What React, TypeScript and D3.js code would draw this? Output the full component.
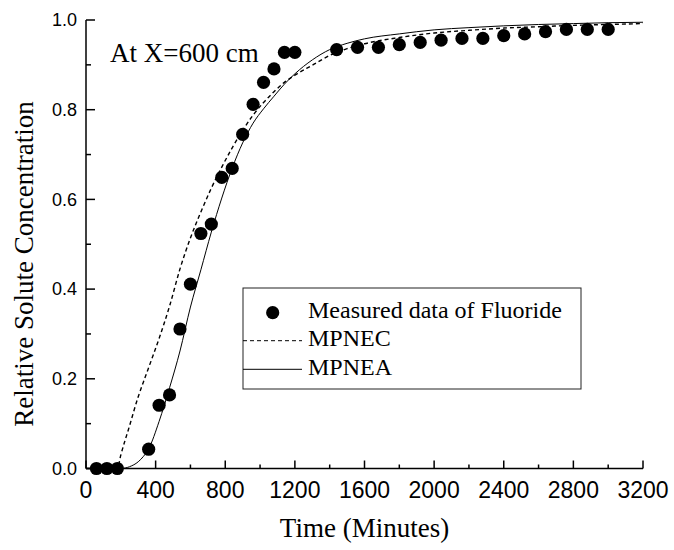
import React from "react";
import * as d3 from "d3";

// Measured data of Fluoride
const measuredTime = [60, 120, 180, 360, 420, 480, 540, 600, 660, 720, 780, 840, 900, 960, 1020, 1080, 1140, 1200, 1440, 1560, 1680, 1800, 1920, 2040, 2160, 2280, 2400, 2520, 2640, 2760, 2880, 3000];
const measuredConc = [0, 0, 0, 0.043, 0.141, 0.164, 0.311, 0.411, 0.524, 0.545, 0.649, 0.669, 0.745, 0.812, 0.861, 0.891, 0.928, 0.928, 0.934, 0.939, 0.939, 0.945, 0.95, 0.955, 0.959, 0.959, 0.965, 0.969, 0.974, 0.979, 0.979, 0.979];

// Model curves
const modelTime = [0, 180, 200, 250, 300, 330, 360, 420, 480, 540, 600, 660, 720, 780, 840, 900, 960, 1020, 1080, 1140, 1200, 1300, 1400, 1500, 1600, 1800, 2000, 2200, 2400, 2600, 2800, 3000, 3200];
const mpnec = [0, 0, 0.03, 0.095, 0.16, 0.193, 0.225, 0.29, 0.362, 0.445, 0.514, 0.572, 0.625, 0.672, 0.715, 0.754, 0.788, 0.816, 0.84, 0.861, 0.877, 0.899, 0.921, 0.936, 0.947, 0.961, 0.971, 0.977, 0.982, 0.985, 0.988, 0.99, 0.992];
const mpnea = [0, 0, 0, 0.004, 0.015, 0.027, 0.044, 0.105, 0.18, 0.262, 0.36, 0.443, 0.527, 0.603, 0.67, 0.726, 0.77, 0.802, 0.83, 0.857, 0.88, 0.911, 0.934, 0.948, 0.958, 0.969, 0.978, 0.983, 0.987, 0.99, 0.992, 0.994, 0.995];

const xMajorTicks = [0, 400, 800, 1200, 1600, 2000, 2400, 2800, 3200];
const xMinorTicks = [200, 600, 1000, 1400, 1800, 2200, 2600, 3000];
const yMajorTicks = [0, 0.2, 0.4, 0.6, 0.8, 1.0];
const yMinorTicks = [0.1, 0.3, 0.5, 0.7, 0.9];

const legendLabels = ["Measured data of Fluoride", "MPNEC", "MPNEA"];
const annotation = "At X=600 cm";
const xTitle = "Time (Minutes)";
const yTitle = "Relative Solute Concentration";

const W = 674;
const H = 550;
const serif = "'Liberation Serif', 'Times New Roman', serif";
const sans = "'Liberation Sans', Arial, sans-serif";

export default function App() {
  const x = d3.scaleLinear().domain([0, 3200]).range([86, 643]);
  const y = d3.scaleLinear().domain([0, 1]).range([468.5, 20]);

  const lineGen = (vals: number[]) =>
    d3
      .line<number>()
      .x((_, i) => x(modelTime[i]))
      .y((d) => y(d))
      .curve(d3.curveMonotoneX)(vals) as string;

  const x0 = x(0);
  const y0 = y(0);

  const lx0 = 243;
  const ly0 = 288;
  const lx1 = 581;
  const ly1 = 389;

  return (
    <svg
      width={W}
      height={H}
      style={{ position: "absolute", left: 0, top: 0, background: "#fff" }}
    >
      <rect x={0} y={0} width={W} height={H} fill="#fff" />

      {/* curves */}
      <path d={lineGen(mpnec)} fill="none" stroke="#000" strokeWidth={1.4} strokeDasharray="4,3" />
      <path d={lineGen(mpnea)} fill="none" stroke="#000" strokeWidth={1} />

      {/* measured points */}
      {measuredTime.map((t, i) => (
        <circle key={i} cx={x(t)} cy={y(measuredConc[i])} r={6.6} fill="#000" />
      ))}

      {/* axes */}
      <line x1={x0} y1={y0} x2={x(3200)} y2={y0} stroke="#000" strokeWidth={1.5} />
      <line x1={x0} y1={y0} x2={x0} y2={y(1)} stroke="#000" strokeWidth={1.5} />
      {xMajorTicks.map((t) => (
        <g key={"xm" + t}>
          <line x1={x(t)} x2={x(t)} y1={y0} y2={y0 - 8} stroke="#000" strokeWidth={1.5} />
          <text x={x(t)} y={498} textAnchor="middle" fontFamily={sans} fontSize={23}>
            {t}
          </text>
        </g>
      ))}
      {xMinorTicks.map((t) => (
        <line key={"xn" + t} x1={x(t)} x2={x(t)} y1={y0} y2={y0 - 4} stroke="#000" strokeWidth={1.5} />
      ))}
      {yMajorTicks.map((v) => (
        <g key={"ym" + v}>
          <line x1={x0} x2={x0 + 9} y1={y(v)} y2={y(v)} stroke="#000" strokeWidth={1.5} />
          <text x={77} y={y(v)} dy="0.35em" textAnchor="end" fontFamily={sans} fontSize={18}>
            {v.toFixed(1)}
          </text>
        </g>
      ))}
      {yMinorTicks.map((v) => (
        <line key={"yn" + v} x1={x0} x2={x0 + 5} y1={y(v)} y2={y(v)} stroke="#000" strokeWidth={1.5} />
      ))}

      {/* titles */}
      <text x={(x(0) + x(3200)) / 2} y={537} textAnchor="middle" fontFamily={serif} fontSize={27}>
        {xTitle}
      </text>
      <text
        transform={`translate(33, ${264}) rotate(-90)`}
        textAnchor="middle"
        fontFamily={serif}
        fontSize={27}
      >
        {yTitle}
      </text>
      <text x={110} y={61.5} fontFamily={serif} fontSize={27}>
        {annotation}
      </text>

      {/* legend */}
      <rect x={lx0} y={ly0} width={lx1 - lx0} height={ly1 - ly0} fill="#fff" stroke="#222" strokeWidth={1} />
      <circle cx={272.7} cy={312.7} r={6.6} fill="#000" />
      <line x1={lx0} x2={302} y1={340.7} y2={340.7} stroke="#000" strokeWidth={1} strokeDasharray="4,3" />
      <line x1={lx0} x2={302} y1={369.3} y2={369.3} stroke="#000" strokeWidth={1} />
      {legendLabels.map((s, i) => (
        <text key={s} x={308} y={317.5 + i * 28.6} fontFamily={serif} fontSize={24}>
          {s}
        </text>
      ))}
    </svg>
  );
}
